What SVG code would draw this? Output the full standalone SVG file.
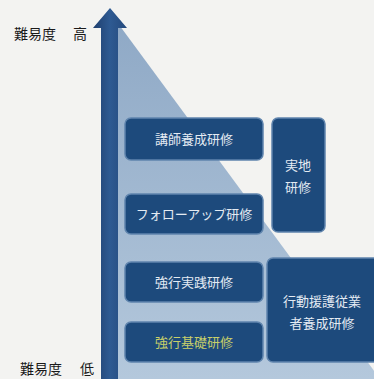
<svg xmlns="http://www.w3.org/2000/svg" width="374" height="379" viewBox="0 0 374 379">
<defs>
<linearGradient id="tri" x1="0" y1="0" x2="0" y2="1">
<stop offset="0" stop-color="#8fa9c6"/>
<stop offset="1" stop-color="#b4c8dc"/>
</linearGradient>
<linearGradient id="arr" x1="0" y1="0" x2="1" y2="0">
<stop offset="0" stop-color="#1f3f6e"/>
<stop offset="0.5" stop-color="#2e5a92"/>
<stop offset="1" stop-color="#24497c"/>
</linearGradient>
</defs>
<style>
.box{fill:#1d4a7c;stroke:#5f84ad;stroke-width:1.5}
.t{font-family:"Noto Sans CJK JP","Noto Sans",sans-serif;font-size:13px;fill:#e4ebf3;text-anchor:middle}
.lbl{font-family:"Noto Sans CJK JP","Noto Sans",sans-serif;font-size:14px;fill:#1a1a1a}
</style>
<rect width="374" height="379" fill="#f3f3f1"/>
<g id="triangle"><polygon points="117,22 380,379 117,379" fill="url(#tri)"/></g>
<g id="arrow"><polygon points="101,379 101,28 93,28 110,8 127,28 118,28 118,379" fill="url(#arr)"/></g>
<g id="label-high"><text class="lbl" x="14" y="39">難易度</text><text class="lbl" x="73" y="39">高</text></g>
<g id="label-low"><text class="lbl" x="20" y="374">難易度</text><text class="lbl" x="80" y="374">低</text></g>
<g id="n1"><rect class="box" x="125" y="118" width="138" height="42" rx="6"/><text class="t" x="194" y="144">講師養成研修</text></g>
<g id="n2"><rect class="box" x="125" y="194" width="138" height="40" rx="6"/><text class="t" x="194" y="219">フォローアップ研修</text></g>
<g id="n3"><rect class="box" x="125" y="262" width="138" height="40" rx="6"/><text class="t" x="194" y="287">強行実践研修</text></g>
<g id="n4"><rect class="box" x="125" y="322" width="138" height="40" rx="6"/><text class="t" x="194" y="347" style="fill:#c8cf6a">強行基礎研修</text></g>
<g id="n5"><rect class="box" x="272" y="118" width="53" height="114" rx="6"/><text class="t" x="298" y="170">実地</text><text class="t" x="298" y="192">研修</text></g>
<g id="n6"><rect class="box" x="267" y="258" width="112" height="104" rx="6"/><text class="t" x="322" y="306">行動援護従業</text><text class="t" x="322" y="328">者養成研修</text></g>
<g id="connectors"></g>
</svg>
